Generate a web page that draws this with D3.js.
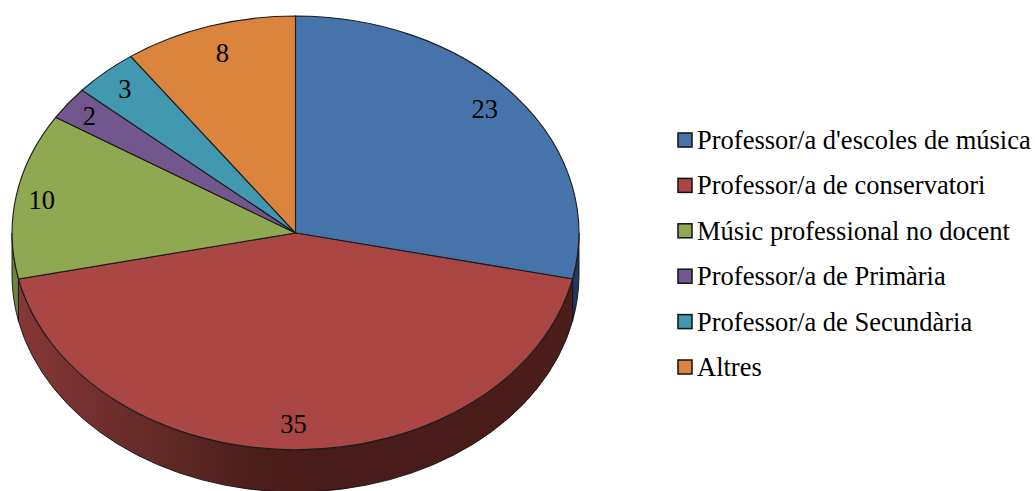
<!DOCTYPE html>
<html><head><meta charset="utf-8">
<script src="https://cdn.jsdelivr.net/npm/d3@7"></script>
<style>html,body{margin:0;background:#fff;overflow:hidden}svg{display:block}text{font-family:"Liberation Serif",serif;fill:#000}</style>
</head><body><svg id="c" width="1035" height="491"></svg>
<script>
const categories=["Professor/a d'escoles de música","Professor/a de conservatori","Músic professional no docent","Professor/a de Primària","Professor/a de Secundària","Altres"];
const values=[23,35,10,2,3,8];
const colors=["#4674aa","#aa4744","#8fa851","#72578f","#4198af","#db843d"];
const wallColors=["#1f3a5e","url(#redWall)","#6f8340","#4a3560","#276577","#8f5526"];
const labelNudge=[[-5,-3],[-2,1],[-8,1],[-6,-2],[-3,-2],[3,3]];
const cx=295.5,cy=233,rx=283.5,ry=217,depth=42;
const svg=d3.select("#c");
const defs=svg.append("defs");
const grad=defs.append("linearGradient").attr("id","redWall").attr("gradientUnits","userSpaceOnUse").attr("x1",15).attr("x2",575).attr("y1",0).attr("y2",0);
[[0,"#863836"],[0.12,"#763130"],[0.25,"#642a27"],[0.42,"#4d1f1c"],[0.55,"#471c1a"],[1,"#4b1d1b"]].forEach(([o,c])=>grad.append("stop").attr("offset",o).attr("stop-color",c));
const pieData=d3.pie().sort(null).value(d=>d)(values);
const P=(t,dy=0)=>[cx+rx*Math.sin(t),cy-ry*Math.cos(t)+dy];
const wallG=svg.append("g");
pieData.forEach((s,i)=>{
  const a=Math.max(s.startAngle,Math.PI/2),b=Math.min(s.endAngle,Math.PI*1.5);
  if(b<=a)return;
  const [x0,y0]=P(a),[x1,y1]=P(b),[x2,y2]=P(b,depth),[x3,y3]=P(a,depth);
  wallG.append("path")
    .attr("d",`M${x0},${y0}A${rx},${ry} 0 0 1 ${x1},${y1}L${x2},${y2}A${rx},${ry} 0 0 0 ${x3},${y3}Z`)
    .attr("fill",wallColors[i]).attr("stroke","#111").attr("stroke-width",0.9);
});
const arc=d3.arc().innerRadius(0).outerRadius(1);
const topG=svg.append("g").attr("transform",`translate(${cx},${cy}) scale(${rx},${ry})`);
topG.selectAll("path").data(pieData).join("path")
  .attr("d",arc).attr("fill",(d,i)=>colors[i])
  .attr("stroke","#1c1c1c").attr("stroke-width",1.1).attr("vector-effect","non-scaling-stroke");
const labelArc=d3.arc().innerRadius(0.88).outerRadius(0.88);
svg.append("g").selectAll("text").data(pieData).join("text")
  .attr("x",(d,i)=>cx+rx*labelArc.centroid(d)[0]+labelNudge[i][0])
  .attr("y",(d,i)=>cy+ry*labelArc.centroid(d)[1]+8+labelNudge[i][1])
  .attr("text-anchor","middle").attr("font-size",26.5).text(d=>d.value);
const legendY=d3.scalePoint().domain(categories).range([140,367]);
const leg=svg.append("g").selectAll("g").data(categories).join("g")
  .attr("transform",d=>`translate(678,${legendY(d)})`);
leg.append("rect").attr("x",0).attr("y",-7).attr("width",14).attr("height",14)
  .attr("fill",(d,i)=>colors[i]).attr("stroke","#111").attr("stroke-width",1.5);
leg.append("text").attr("x",19).attr("y",9).attr("font-size",26.5).text(d=>d);
</script></body></html>
